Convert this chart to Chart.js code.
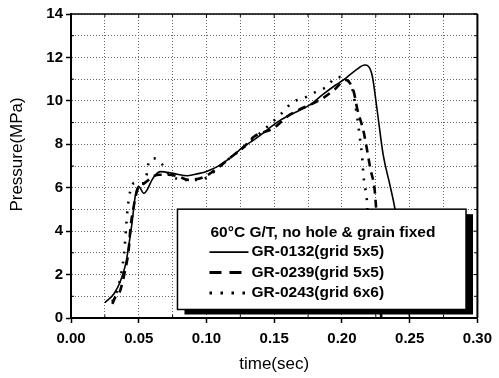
<!DOCTYPE html>
<html>
<head>
<meta charset="utf-8">
<script src="https://cdn.jsdelivr.net/npm/chart.js@4/dist/chart.umd.min.js"></script>
<style>
html,body{margin:0;padding:0;background:#fff;}
#wrap{width:499px;height:378px;position:relative;}
</style>
</head>
<body>
<div id="wrap"><canvas id="c" width="499" height="378"></canvas></div>
<script>
// ---- data ----
const legendTitle = '60\u00B0C G/T, no hole & grain fixed';
const seriesNames = ['GR-0132(grid 5x5)', 'GR-0239(grid 5x5)', 'GR-0243(grid 6x6)'];

const t0132 = [0.025, 0.032, 0.0368, 0.0405, 0.0429, 0.0453, 0.047, 0.0484, 0.050, 0.0538, 0.0562, 0.0598, 0.0634, 0.0659, 0.0755, 0.086, 0.094, 0.100, 0.108, 0.118, 0.1276, 0.135, 0.1543, 0.165, 0.176, 0.186, 0.1954, 0.2027, 0.210, 0.2168, 0.2222, 0.2258, 0.2305, 0.2354, 0.239, 0.245, 0.250];
const p0132 = [0.7, 1.14, 1.75, 2.53, 3.44, 4.51, 5.43, 5.9, 6.05, 5.74, 5.9, 6.36, 6.66, 6.74, 6.66, 6.55, 6.65, 6.75, 6.97, 7.4, 7.9, 8.2, 9.1, 9.45, 9.8, 10.3, 10.73, 11.04, 11.4, 11.65, 11.2, 9.66, 7.5, 6.13, 5.07, 2.5, 0.0];

const t0239 = [0.0305, 0.033, 0.0356, 0.0405, 0.0425, 0.044, 0.0465, 0.049, 0.052, 0.056, 0.060, 0.065, 0.072, 0.080, 0.0865, 0.0986, 0.108, 0.118, 0.128, 0.135, 0.1495, 0.160, 0.1858, 0.195, 0.2027, 0.2087, 0.2112, 0.216, 0.2209, 0.2245, 0.227, 0.229];
const p0239 = [0.65, 1.0, 1.15, 2.36, 3.1, 4.2, 5.2, 5.9, 6.1, 6.3, 6.5, 6.6, 6.6, 6.5, 6.36, 6.51, 6.9, 7.4, 7.9, 8.35, 8.74, 9.3, 10.12, 10.55, 10.96, 10.42, 9.66, 8.58, 6.9, 5.67, 3.0, 0.0];

const t0243 = [0.0305, 0.0356, 0.0392, 0.0409, 0.0417, 0.043, 0.0445, 0.0477, 0.053, 0.0562, 0.0574, 0.0615, 0.067, 0.0717, 0.084, 0.094, 0.101, 0.110, 0.120, 0.130, 0.1543, 0.164, 0.171, 0.1809, 0.188, 0.1966, 0.2027, 0.2075, 0.2112, 0.2136, 0.2148, 0.216, 0.2172, 0.2184, 0.220, 0.222];
const p0243 = [0.75, 1.6, 2.98, 4.36, 5.0, 5.6, 6.05, 6.23, 6.2, 6.7, 7.2, 7.35, 7.1, 6.66, 6.36, 6.36, 6.5, 7.0, 7.5, 8.0, 9.35, 9.96, 10.1, 10.42, 10.62, 11.1, 11.0, 10.58, 9.27, 8.12, 7.5, 6.5, 5.97, 5.43, 3.0, 0.0];

const xTickLabels = ['0.00', '0.05', '0.10', '0.15', '0.20', '0.25', '0.30'];
const yTickLabels = ['0', '2', '4', '6', '8', '10', '12', '14'];
const xTitle = 'time(sec)';
const yTitle = 'Pressure(MPa)';

const FONT = "'Liberation Sans', Arial, sans-serif";
const pts = (ts, ps) => ts.map((t, i) => ({x: t, y: ps[i]}));

const styles = [
  {borderWidth: 1.6, borderDash: []},
  {borderWidth: 2.6, borderDash: [8, 6]},
  {borderWidth: 2.6, borderDash: [2, 8]}
];
const seriesData = [pts(t0132, p0132), pts(t0239, p0239), pts(t0243, p0243)];

const datasets = seriesData.map((d, i) => ({
  label: seriesNames[i],
  data: d,
  borderColor: '#000',
  backgroundColor: '#000',
  borderWidth: styles[i].borderWidth,
  borderDash: styles[i].borderDash,
  pointRadius: 0,
  cubicInterpolationMode: 'monotone',
  fill: false
}));

const isMajorX = v => Math.round(v * 1000) % 50 === 0;
const isMajorY = v => Math.round(v) % 2 === 0;

const deco = {
  id: 'deco',
  afterDraw(chart) {
    const {ctx, chartArea: a, scales: {x, y}} = chart;
    ctx.save();
    // frame top & right
    ctx.strokeStyle = '#000';
    ctx.setLineDash([]);
    ctx.lineWidth = 1.5;
    ctx.beginPath(); ctx.moveTo(a.left, a.top); ctx.lineTo(a.right, a.top); ctx.stroke();
    ctx.lineWidth = 2;
    ctx.beginPath(); ctx.moveTo(a.right, a.top); ctx.lineTo(a.right, a.bottom); ctx.stroke();
    // inward ticks
    ctx.lineWidth = 1;
    x.ticks.forEach(tk => {
      const px = x.getPixelForValue(tk.value);
      const len = isMajorX(tk.value) ? 4 : 3;
      ctx.beginPath();
      ctx.moveTo(px, a.top); ctx.lineTo(px, a.top + len);
      if (!isMajorX(tk.value)) { ctx.moveTo(px, a.bottom); ctx.lineTo(px, a.bottom - len); }
      ctx.stroke();
    });
    y.ticks.forEach(tk => {
      const py = y.getPixelForValue(tk.value);
      const len = isMajorY(tk.value) ? 4 : 3;
      ctx.beginPath();
      ctx.moveTo(a.right, py); ctx.lineTo(a.right - len, py);
      if (!isMajorY(tk.value)) { ctx.moveTo(a.left, py); ctx.lineTo(a.left + len, py); }
      ctx.stroke();
    });

    // legend box
    const W = a.right - a.left, H = a.bottom - a.top;
    const bx = a.left + W * 0.262, by = a.top + H * 0.642;
    const bw = W * 0.71, bh = H * 0.33;
    ctx.fillStyle = '#000';
    ctx.fillRect(bx + 7, by + 5, bw, bh);
    ctx.fillStyle = '#fff';
    ctx.fillRect(bx, by, bw, bh);
    ctx.strokeStyle = '#000';
    ctx.lineWidth = 1.5;
    ctx.strokeRect(bx, by, bw, bh);

    ctx.fillStyle = '#000';
    ctx.font = 'bold 15.5px ' + FONT;
    ctx.textBaseline = 'middle';
    ctx.textAlign = 'left';
    ctx.fillText(legendTitle, bx + 33, by + 24);
    chart.data.datasets.forEach((ds, i) => {
      const ly = by + 43 + i * 20.4;
      ctx.save();
      ctx.strokeStyle = ds.borderColor;
      ctx.lineWidth = ds.borderWidth + (i ? 0.4 : 0);
      ctx.setLineDash(i === 1 ? [12, 8] : (i === 2 ? [2.5, 8.5] : []));
      ctx.beginPath(); ctx.moveTo(bx + 32, ly); ctx.lineTo(bx + 71, ly); ctx.stroke();
      ctx.restore();
      ctx.fillText(ds.label, bx + 74, ly);
    });

    // axis titles
    ctx.font = '17px ' + FONT;
    ctx.textAlign = 'center';
    ctx.textBaseline = 'middle';
    ctx.fillText(xTitle, (a.left + a.right) / 2, a.bottom + 46);
    ctx.save();
    ctx.translate(17, a.top + H * 0.462);
    ctx.rotate(-Math.PI / 2);
    ctx.fillText(yTitle, 0, 0);
    ctx.restore();
    ctx.restore();
  }
};

new Chart(document.getElementById('c'), {
  type: 'line',
  data: {datasets},
  plugins: [deco],
  options: {
    responsive: false,
    animation: false,
    devicePixelRatio: 1,
    layout: {padding: {top: 14, right: 15, left: 0, bottom: 0}},
    plugins: {legend: {display: false}, tooltip: {enabled: false}},
    scales: {
      x: {
        type: 'linear', min: 0, max: 0.3,
        afterFit: s => { s.height = 60; },
        ticks: {
          stepSize: 0.025, maxTicksLimit: 20, maxRotation: 0, autoSkip: false,
          padding: 7, color: '#000',
          font: {family: FONT, size: 15, weight: 'bold'},
          callback: v => isMajorX(v) ? xTickLabels[Math.round(v * 20)] : ''
        },
        grid: {
          color: '#666', lineWidth: 1, tickLength: 5,
          tickColor: c => (c.tick && isMajorX(c.tick.value)) ? '#000' : 'rgba(0,0,0,0)',
          tickWidth: 1.5, tickBorderDash: []
        },
        border: {display: true, color: '#000', width: 2, dash: [1, 2]}
      },
      y: {
        type: 'linear', min: 0, max: 14,
        afterFit: s => { s.width = 71; },
        ticks: {
          stepSize: 1, maxTicksLimit: 20, autoSkip: false,
          padding: 3, color: '#000',
          font: {family: FONT, size: 15, weight: 'bold'},
          callback: v => isMajorY(v) ? yTickLabels[Math.round(v / 2)] : ''
        },
        grid: {
          color: '#666', lineWidth: 1, tickLength: 5,
          tickColor: c => (c.tick && isMajorY(c.tick.value)) ? '#000' : 'rgba(0,0,0,0)',
          tickWidth: 1.5, tickBorderDash: []
        },
        border: {display: true, color: '#000', width: 2, dash: [1, 2]}
      }
    }
  }
});
</script>
</body>
</html>
